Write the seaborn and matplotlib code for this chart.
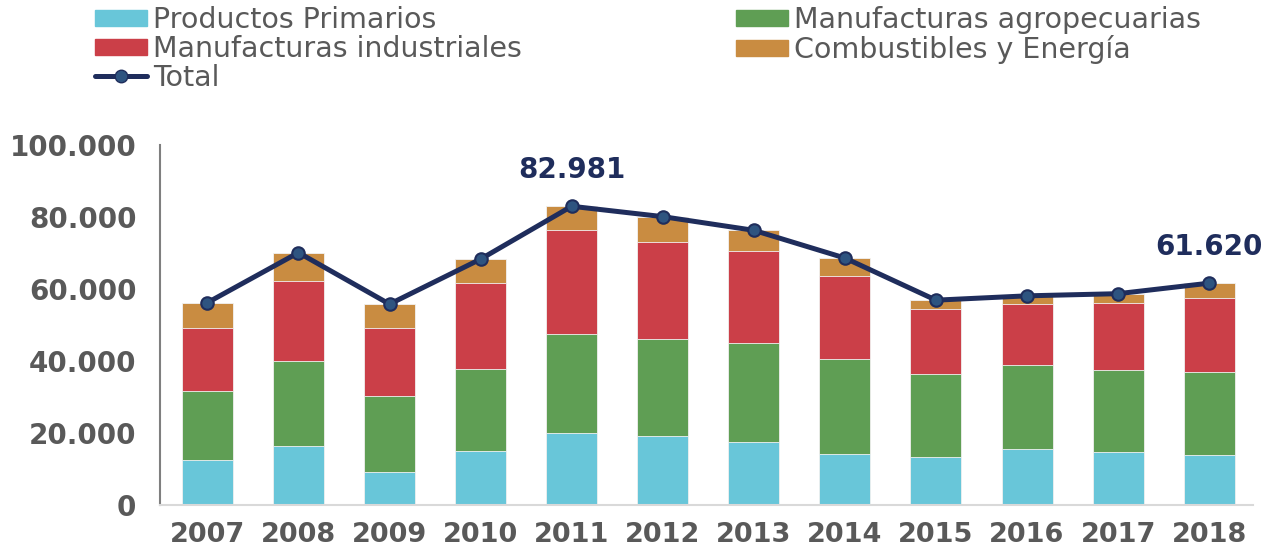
import matplotlib
matplotlib.use("Agg")
import matplotlib.pyplot as plt
import seaborn as sns
import numpy as np
from matplotlib.patches import Patch
from matplotlib.lines import Line2D

# values (thousands as plain units)
years = ["2007", "2008", "2009", "2010", "2011", "2012",
         "2013", "2014", "2015", "2016", "2017", "2018"]
primarios = [12400, 16300, 9100, 15100, 19900, 19100,
             17600, 14100, 13200, 15600, 14700, 13900]
agro = [19300, 23800, 21300, 22700, 27700, 26900,
        27300, 26500, 23300, 23400, 22700, 23100]
industriales = [17400, 22100, 18700, 23900, 28800, 27000,
                25700, 23000, 18000, 16800, 18700, 20400]
combustibles = [7100, 7900, 6700, 6600, 6581, 7100,
                5700, 5000, 2400, 2300, 2600, 4220]

labels = ["Productos Primarios", "Manufacturas agropecuarias",
          "Manufacturas industriales", "Combustibles y Energía", "Total"]
colors = ["#68C6D9", "#5F9E54", "#CB3F48", "#C98C41"]
line_color = "#1F2D5C"
marker_color = "#2E5480"
text_gray = "#595959"

series = np.array([primarios, agro, industriales, combustibles])
cum = series.cumsum(axis=0)
total = cum[-1]

sns.set_theme(style="white")
plt.rcParams["font.family"] = ["DejaVu Sans"]

fig = plt.figure(figsize=(12.63, 5.53), dpi=100)
ax = fig.add_axes([0.1267, 0.0868, 0.8653, 0.651])

# stacked bars: draw cumulative heights from top down
for i in range(3, -1, -1):
    sns.barplot(x=years, y=cum[i], color=colors[i], width=0.56,
                edgecolor="#F2F2F2", linewidth=0.6, saturation=1, ax=ax)

sns.pointplot(x=years, y=total, color=line_color, linewidth=3.6,
              markers="o", markersize=9, ax=ax)
for ln in ax.lines:
    ln.set_markerfacecolor(marker_color)
    ln.set_markeredgecolor(line_color)
    ln.set_markeredgewidth(1.5)
    ln.set_zorder(5)

for idx in (4, 11):
    ax.annotate(f"{total[idx]:,}".replace(",", "."), (idx, total[idx]),
                xytext=(0, 26), textcoords="offset points",
                ha="center", va="center", fontsize=20, fontweight="bold",
                color=line_color)

ax.set_xlim(-0.52, 11.48)
ax.set_ylim(0, 100000)
yt = np.arange(0, 100001, 20000)
ax.set_yticks(yt)
ax.set_yticklabels([f"{v:,}".replace(",", ".") for v in yt])
ax.tick_params(axis="both", length=0, labelsize=20, labelcolor=text_gray)
ax.tick_params(axis="y", pad=17)
ax.tick_params(axis="x", pad=12, labelsize=19.5)
for lab in ax.get_xticklabels() + ax.get_yticklabels():
    lab.set_fontweight("bold")
ax.set_xlabel("")
ax.set_ylabel("")

for s in ["top", "right"]:
    ax.spines[s].set_visible(False)
ax.spines["left"].set_color("#7F7F7F")
ax.spines["left"].set_linewidth(1.5)
ax.spines["bottom"].set_color("#D9D9D9")
ax.spines["bottom"].set_linewidth(1.5)

handles = [
    Patch(color=colors[0]), Patch(color=colors[2]),
    Line2D([], [], color=line_color, lw=3.6, marker="o", markersize=9,
           markerfacecolor=marker_color, markeredgecolor=line_color),
    Patch(color=colors[1]), Patch(color=colors[3]),
]
hl = [labels[0], labels[2], labels[4], labels[1], labels[3]]
leg = fig.legend(handles, hl, ncol=2, loc="upper left",
                 bbox_to_anchor=(0.066, 1.009), frameon=False,
                 fontsize=20.5, handlelength=1.85, handleheight=0.5,
                 handletextpad=0.2, labelspacing=0.02, columnspacing=7.5,
                 borderaxespad=0)
for t in leg.get_texts():
    t.set_color(text_gray)

fig.savefig("out.png", dpi=100)
